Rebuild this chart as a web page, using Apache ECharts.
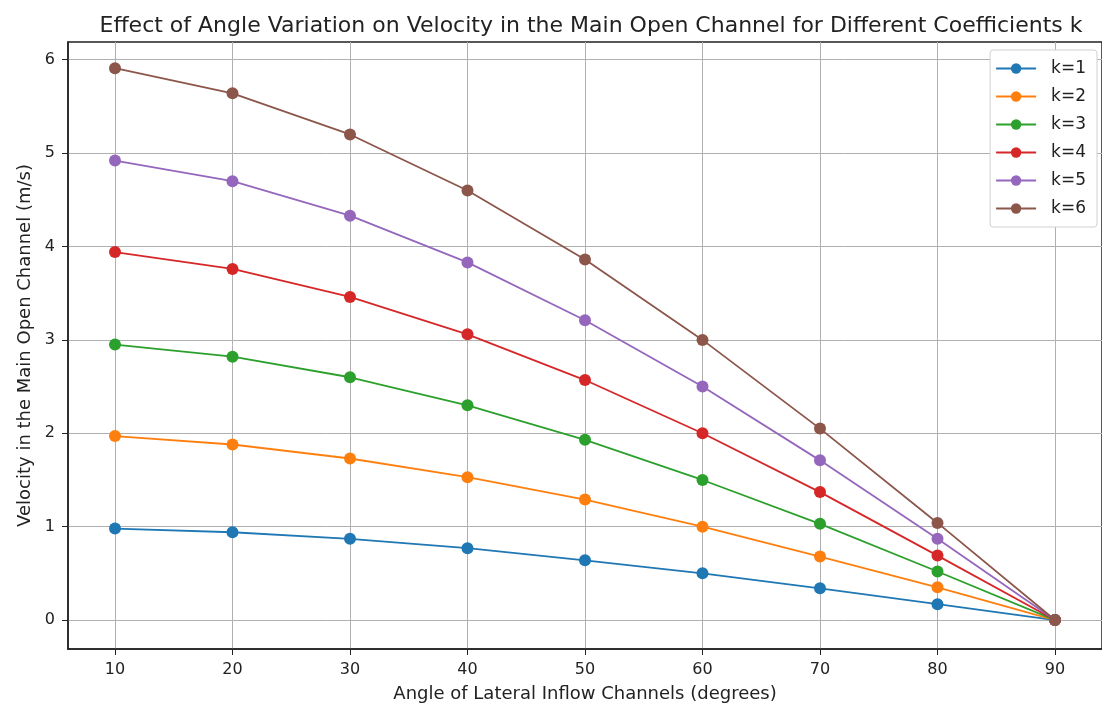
<!DOCTYPE html>
<html>
<head>
<meta charset="utf-8">
<script src="https://cdn.jsdelivr.net/npm/echarts@6/dist/echarts.min.js"></script>
<style>
  html, body { margin: 0; padding: 0; background: #fff; }
  #chart { width: 1102px; height: 708px; }
</style>
</head>
<body>
<div id="chart"></div>
<script>
// 数据
var angles = [10, 20, 30, 40, 50, 60, 70, 80, 90];
var k1 = [0.98, 0.94, 0.87, 0.77, 0.64, 0.50, 0.34, 0.17, 0];
var k2 = [1.97, 1.88, 1.73, 1.53, 1.29, 1.00, 0.68, 0.35, 0];
var k3 = [2.95, 2.82, 2.60, 2.30, 1.93, 1.50, 1.03, 0.52, 0];
var k4 = [3.94, 3.76, 3.46, 3.06, 2.57, 2.00, 1.37, 0.69, 0];
var k5 = [4.92, 4.70, 4.33, 3.83, 3.21, 2.50, 1.71, 0.87, 0];
var k6 = [5.91, 5.64, 5.20, 4.60, 3.86, 3.00, 2.05, 1.04, 0];
var seriesNames = ['k=1', 'k=2', 'k=3', 'k=4', 'k=5', 'k=6'];
var xTicks = [10, 20, 30, 40, 50, 60, 70, 80, 90];
var yTicks = [0, 1, 2, 3, 4, 5, 6];

var colors = ['#1f77b4', '#ff7f0e', '#2ca02c', '#d62728', '#9467bd', '#8c564b'];
var font = 'DejaVu Sans';

var chart = echarts.init(document.getElementById('chart'));

var allData = [k1, k2, k3, k4, k5, k6];
var series = allData.map(function (vals, i) {
    return {
        name: seriesNames[i],
        type: 'line',
        symbol: 'circle',
        symbolSize: 12,
        lineStyle: { width: 1.8, color: colors[i] },
        itemStyle: { color: colors[i] },
        data: vals.map(function (v, j) { return [angles[j], v]; })
    };
});

chart.setOption({
    animation: false,
    color: colors,
    title: {
        text: 'Effect of Angle Variation on Velocity in the Main Open Channel for Different Coefficients k',
        left: 586,
        textAlign: 'center',
        top: 10,
        textStyle: { fontFamily: font, fontSize: 22, fontWeight: 'normal', color: '#222' }
    },
    legend: {
        orient: 'vertical',
        right: 5,
        top: 50,
        itemWidth: 40,
        itemHeight: 13,
        itemGap: 11,
        padding: [10, 11, 10, 5],
        backgroundColor: '#fff',
        borderColor: '#d0d0d0',
        borderWidth: 1,
        borderRadius: 3,
        textStyle: { fontFamily: font, fontSize: 17, color: '#222', padding: [0, 0, 0, 10] },
        data: seriesNames
    },
    grid: {
        left: 68, right: -2, top: 42, bottom: 59,
        show: true, borderColor: '#222', borderWidth: 1.5
    },
    xAxis: {
        type: 'value',
        min: 6,
        max: 94,
        name: 'Angle of Lateral Inflow Channels (degrees)',
        nameLocation: 'middle',
        nameGap: 36,
        nameTextStyle: { fontFamily: font, fontSize: 18, color: '#222' },
        axisLine: { onZero: false, lineStyle: { color: '#222', width: 1.5 } },
        axisTick: { customValues: xTicks, length: 6, lineStyle: { color: '#222' } },
        axisLabel: { customValues: xTicks, fontFamily: font, fontSize: 16, color: '#222', margin: 13 },
        splitLine: { show: true, lineStyle: { color: '#b0b0b0', width: 1 } }
    },
    yAxis: {
        type: 'value',
        min: -0.31,
        max: 6.19,
        name: 'Velocity in the Main Open Channel (m/s)',
        nameLocation: 'middle',
        nameGap: 34,
        nameTextStyle: { fontFamily: font, fontSize: 18, color: '#222' },
        axisLine: { show: true, onZero: false, lineStyle: { color: '#222', width: 1.5 } },
        axisTick: { show: true, customValues: yTicks, length: 6, lineStyle: { color: '#222' } },
        axisLabel: { customValues: yTicks, fontFamily: font, fontSize: 16, color: '#222', margin: 13 },
        splitLine: { show: true, lineStyle: { color: '#b0b0b0', width: 1 } }
    },
    series: series
});
</script>
</body>
</html>
